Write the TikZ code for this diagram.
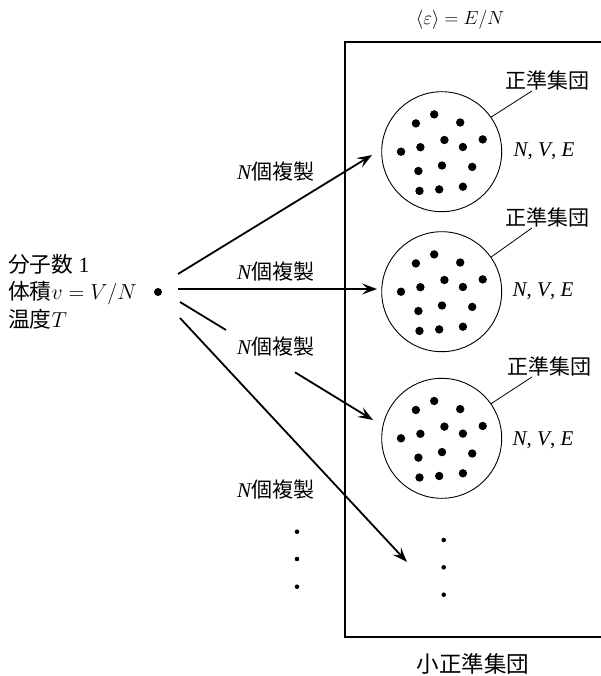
\documentclass[tikz,border=0pt]{standalone}
\usepackage{fix-cm}
\usepackage{fontspec}
\setmainfont{Liberation Serif}
\newfontfamily\jp{Noto Sans CJK JP}
\usetikzlibrary{arrows.meta,calc}
\tikzset{
  txt/.style={inner sep=1pt, font=\fontsize{21}{27.5}\selectfont},
  ens/.style={draw, circle, line width=0.9pt, minimum size=120pt, inner sep=0pt},
  arr/.style={line width=1.8pt, -{Stealth[length=15pt,width=11pt,inset=6pt]}},
  seg/.style={line width=1.8pt},
  lead/.style={line width=0.8pt},
  mol/.style={fill=black},
}
\begin{document}
\begin{tikzpicture}[x=1pt,y=-1pt]
\useasboundingbox (0,0) rectangle (601,676);
% frame
\draw[line width=2pt] (601,42) -| (345,637) -- (601,637);
\node[txt, font=\fontsize{19}{24}\selectfont] (title) at (460,20) {$\langle\varepsilon\rangle = E/N$};
\node[inner sep=0pt, font=\fontsize{22.5}{27}\selectfont] (micro) at (473,664) {\jp 小正準集団};
% source
\node[txt, font=\fontsize{21.7}{27.5}\selectfont, anchor=west, align=left] (src) at (7,291.5) {{\jp 分子数} 1\\{\jp 体積}$v = V/N$\\{\jp 温度}$T$};
\node[circle, fill=black, inner sep=0pt, minimum size=8pt] (pt) at (158,292) {};
% ensembles
\node[ens] (c1) at (441.7,151.7) {};
\node[ens] (c2) at (441.7,291.7) {};
\node[ens] (c3) at (441.7,438.3) {};
\foreach \c in {c1,c2,c3}{
  \foreach \dx/\dy in {-7.5/-37.3,-25.8/-28.3,18.5/-29.2,2.7/-11.7,41/-12.3,-40.7/0,-21.3/-4.5,21.2/-4.7,0.3/13.8,30.5/15.2,-23.3/19.3,-22.2/39.2,-2.5/37.7,21.2/35}{
    \fill[mol] ([shift={(\dx,\dy)}]\c) circle (4.2pt);
  }
}
\node[txt] (k1) at (547,80) {\jp 正準集団};
\node[txt] (k2) at (547,217) {\jp 正準集団};
\node[txt] (k3) at (549,366) {\jp 正準集団};
\draw[lead] (c1.35) -- ($(k1.south)+(-15,0)$);
\draw[lead] (c2.35) -- ($(k2.south)+(-15,0)$);
\draw[lead] (c3.35) -- ($(k3.south)+(-17,0)$);
\node[txt] (p1) at (544,151) {\textit{N}, \textit{V}, \textit{E}};
\node[txt] (p2) at (543,291) {\textit{N}, \textit{V}, \textit{E}};
\node[txt] (p3) at (543,440) {\textit{N}, \textit{V}, \textit{E}};
% arrows
\coordinate (s1) at (178,274);
\coordinate (e1) at (372,155);
\coordinate (s2) at (178,289);
\coordinate (e2) at (377,289);
\coordinate (s3) at (180,302);
\coordinate (m3a) at (226,330);
\coordinate (m3b) at (295,372.3);
\coordinate (e3) at (373,420);
\coordinate (s4) at (180,318);
\coordinate (e4) at (407,562);
\draw[arr] (s1) -- (e1);
\draw[arr] (s2) -- (e2);
\draw[seg] (s3) -- (m3a);
\draw[arr] (m3b) -- (e3);
\draw[arr] (s4) -- (e4);
\node[txt] (l1) at (276,172) {\textit{N}\jp 個複製};
\node[txt] (l2) at (276,272) {\textit{N}\jp 個複製};
\node[txt] (l3) at (276,347) {\textit{N}\jp 個複製};
\node[txt] (l4) at (276,490) {\textit{N}\jp 個複製};
% ellipses
\foreach \y [count=\i] in {531.7,559,586.7}{
  \fill[mol] (297,\y) circle (2.3pt);
}
\foreach \y [count=\i] in {540,567.3,594.7}{
  \fill[mol] (443.7,\y) circle (2.3pt);
}
\end{tikzpicture}
\end{document}
